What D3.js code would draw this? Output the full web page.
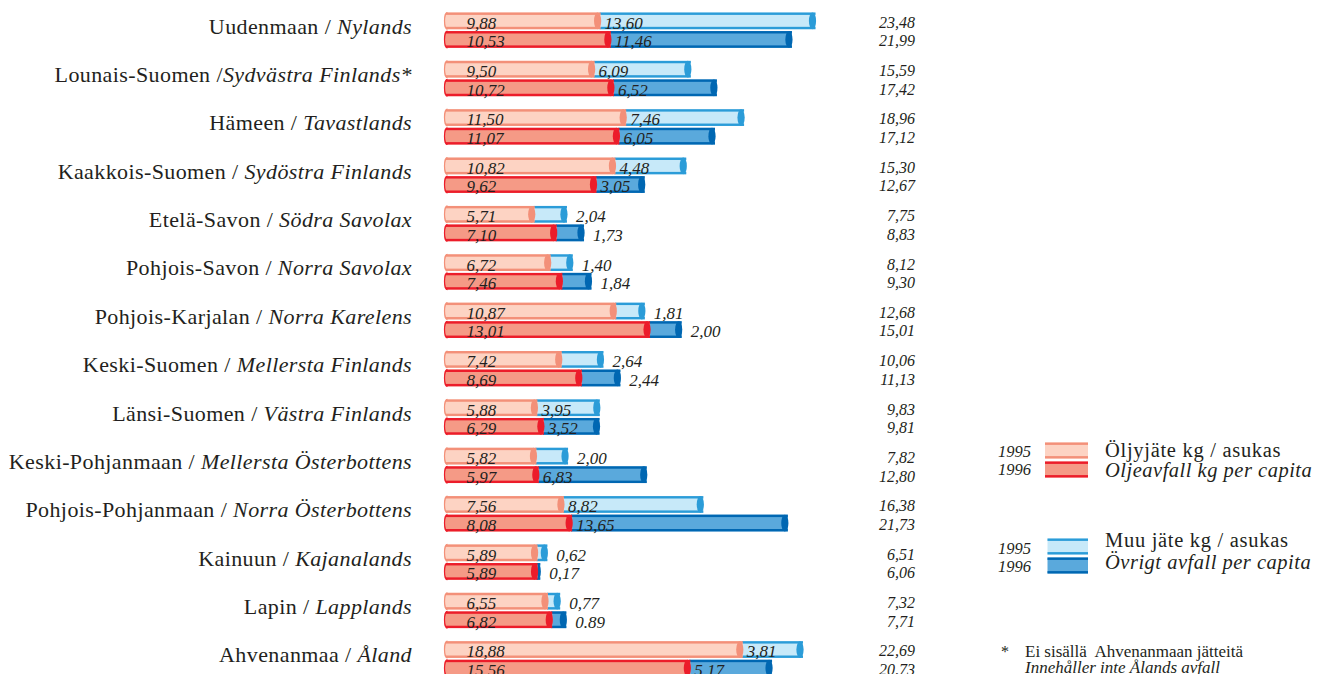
<!DOCTYPE html>
<html>
<head>
<meta charset="utf-8">
<script src="https://cdn.jsdelivr.net/npm/d3@7"></script>
<style>
  html, body { margin: 0; padding: 0; background: #fff; }
  svg { display: block; }
  text { font-family: "Liberation Serif", "Times New Roman", serif; fill: #231f20; }
</style>
</head>
<body>
<svg id="chart" width="1324" height="674"></svg>
<script>
// ---- Data (values as printed in the source) ----
const regionsFi = ["Uudenmaan / ", "Lounais-Suomen /", "Hämeen / ", "Kaakkois-Suomen / ", "Etelä-Savon / ",
  "Pohjois-Savon / ", "Pohjois-Karjalan / ", "Keski-Suomen / ", "Länsi-Suomen / ", "Keski-Pohjanmaan / ",
  "Pohjois-Pohjanmaan / ", "Kainuun / ", "Lapin / ", "Ahvenanmaa / "];
const regionsSv = ["Nylands", "Sydvästra Finlands*", "Tavastlands", "Sydöstra Finlands", "Södra Savolax",
  "Norra Savolax", "Norra Karelens", "Mellersta Finlands", "Västra Finlands", "Mellersta Österbottens",
  "Norra Österbottens", "Kajanalands", "Lapplands", "Åland"];
const oil1995 = ["9,88", "9,50", "11,50", "10,82", "5,71", "6,72", "10,87", "7,42", "5,88", "5,82", "7,56", "5,89", "6,55", "18,88"];
const oil1996 = ["10,53", "10,72", "11,07", "9,62", "7,10", "7,46", "13,01", "8,69", "6,29", "5,97", "8,08", "5,89", "6,82", "15,56"];
const other1995 = ["13,60", "6,09", "7,46", "4,48", "2,04", "1,40", "1,81", "2,64", "3,95", "2,00", "8,82", "0,62", "0,77", "3,81"];
const other1996 = ["11,46", "6,52", "6,05", "3,05", "1,73", "1,84", "2,00", "2,44", "3,52", "6,83", "13,65", "0,17", "0.89", "5,17"];
const total1995 = ["23,48", "15,59", "18,96", "15,30", "7,75", "8,12", "12,68", "10,06", "9,83", "7,82", "16,38", "6,51", "7,32", "22,69"];
const total1996 = ["21,99", "17,42", "17,12", "12,67", "8,83", "9,30", "15,01", "11,13", "9,81", "12,80", "21,73", "6,06", "7,71", "20,73"];
const years = ["1995", "1996"];

const num = s => +s.replace(",", ".");

// ---- Styles ----
const oilFill = ["#fdd3c3", "#f59a86"];
const oilEdge = ["#f39079", "#ec1c2a"];
const othFill = ["#c7e9f9", "#5aa9dc"];
const othEdge = ["#2b9cd8", "#0067b2"];

const svg = d3.select("#chart");

const idx = d3.range(regionsFi.length);
const step = 48.36;
const y = d3.scaleBand().domain(idx).range([12.5, 12.5 + step * (idx.length - 0.27)]).paddingInner(0.27).paddingOuter(0);
const yYear = d3.scaleBand().domain([0, 1]).range([0, y.bandwidth()]).paddingInner(0.1);
const x = d3.scaleLinear().domain([0, 25]).range([444.5, 444.5 + 25 * 15.8]);

function segment(g, x0, x1, top, h, fill, edge, roundLeft) {
  const lw = 2.4;
  const inset = roundLeft ? 1.5 : 0;
  g.append("rect").attr("x", x0).attr("y", top).attr("width", Math.max(0, x1 - x0)).attr("height", h)
    .attr("rx", roundLeft ? 3 : 0).attr("fill", fill);
  g.append("rect").attr("x", x0 + inset).attr("y", top).attr("width", Math.max(0, x1 - x0 - inset)).attr("height", lw).attr("fill", edge);
  g.append("rect").attr("x", x0 + inset).attr("y", top + h - lw).attr("width", Math.max(0, x1 - x0 - inset)).attr("height", lw).attr("fill", edge);
  if (roundLeft) {
    g.append("path").attr("d", `M${x0 + 3},${top} A3,${h / 2} 0 0 0 ${x0 + 3},${top + h}`)
      .attr("fill", "none").attr("stroke", edge).attr("stroke-width", 1.2);
  }
  g.append("ellipse").attr("cx", x1 - 3).attr("cy", top + h / 2).attr("rx", 3.6).attr("ry", h / 2).attr("fill", edge);
}

const groups = svg.append("g").selectAll("g").data(idx).join("g")
  .attr("transform", i => `translate(0,${y(i)})`);

groups.each(function (i) {
  const g = d3.select(this);
  // region label
  const t = g.append("text").attr("x", 412).attr("y", y.bandwidth() / 2 + 3.5)
    .attr("text-anchor", "end").attr("font-size", 22).attr("letter-spacing", 0.4);
  t.append("tspan").text(regionsFi[i]);
  t.append("tspan").attr("font-style", "italic").text(regionsSv[i]);

  [0, 1].forEach(k => {
    const oilS = (k === 0 ? oil1995 : oil1996)[i];
    const othS = (k === 0 ? other1995 : other1996)[i];
    const totS = (k === 0 ? total1995 : total1996)[i];
    const oil = num(oilS), oth = num(othS);
    const top = yYear(k), h = yYear.bandwidth();
    const xo = x(oil), xt = x(oil + oth);
    // other waste segment first (behind the oil cap)
    segment(g, xo - 1, xt, top, h, othFill[k], othEdge[k], false);
    segment(g, x(0), xo, top, h, oilFill[k], oilEdge[k], true);

    g.append("text").attr("x", x(0) + 22).attr("y", top + h - 0.5)
      .attr("font-size", 17).attr("font-style", "italic").attr("fill", "#333").text(oilS);
    const outside = oth < 2.9;
    g.append("text").attr("x", outside ? xt + 9 : xo + 4).attr("y", top + h - 0.5)
      .attr("font-size", 17).attr("font-style", "italic").attr("fill", "#333").text(othS);
    g.append("text").attr("x", 915).attr("y", top + h - 1.5).attr("text-anchor", "end")
      .attr("font-size", 16).attr("font-style", "italic").attr("fill", "#333").text(totS);
  });
});

// ---- Legend ----
const legend = svg.append("g");
const legendItems = [
  { fills: oilFill, edges: oilEdge, tops: [442.5, 461.5], yearY: [456.5, 475], lines: ["Öljyjäte kg / asukas", "Oljeavfall kg per capita"], lineY: [457, 477], x0: 1045 },
  { fills: othFill, edges: othEdge, tops: [538.5, 557.5], yearY: [554, 572], lines: ["Muu jäte kg / asukas", "Övrigt avfall per capita"], lineY: [546.5, 568.5], x0: 1047.5 }
];
legendItems.forEach(it => {
  years.forEach((yr, k) => {
    legend.append("text").attr("x", 998).attr("y", it.yearY[k]).attr("font-size", 16.5)
      .attr("font-style", "italic").attr("fill", "#333").text(yr);
    const top = it.tops[k], h = 16;
    legend.append("rect").attr("x", it.x0).attr("y", top).attr("width", 1088 - it.x0).attr("height", h).attr("fill", it.fills[k]);
    legend.append("rect").attr("x", it.x0).attr("y", top).attr("width", 1088 - it.x0).attr("height", 2.4).attr("fill", it.edges[k]);
    legend.append("rect").attr("x", it.x0).attr("y", top + h - 2.4).attr("width", 1088 - it.x0).attr("height", 2.4).attr("fill", it.edges[k]);
  });
  legend.append("text").attr("x", 1105).attr("y", it.lineY[0]).attr("font-size", 20.5).attr("letter-spacing", 0.7).text(it.lines[0]);
  legend.append("text").attr("x", 1105).attr("y", it.lineY[1]).attr("font-size", 20.5).attr("letter-spacing", 0.5)
    .attr("font-style", "italic").text(it.lines[1]);
});

// ---- Footnote ----
const foot = svg.append("g");
foot.append("text").attr("x", 1001).attr("y", 656.5).attr("font-size", 16).text("*");
foot.append("text").attr("x", 1025).attr("y", 656.5).attr("font-size", 17).attr("xml:space", "preserve")
  .text("Ei sisällä  Ahvenanmaan jätteitä");
foot.append("text").attr("x", 1025).attr("y", 673).attr("font-size", 17).attr("font-style", "italic")
  .text("Innehåller inte Ålands avfall");
</script>
</body>
</html>
